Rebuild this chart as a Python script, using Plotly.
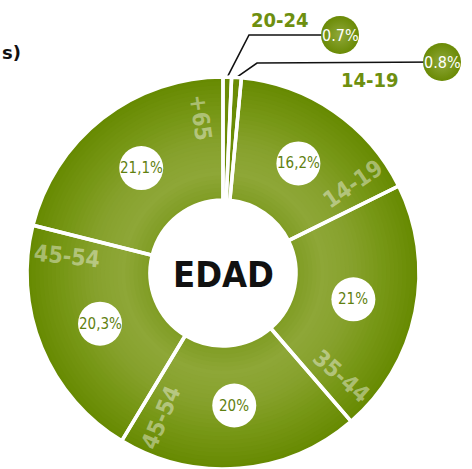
import numpy as np
import plotly.graph_objects as go

# ---------------- data ----------------
categories = ["20-24", "14-19", "14-19", "35-44", "45-54", "45-54", "+65"]
values = [0.7, 0.8, 16.2, 21, 20, 20.3, 21.1]
pct_labels = ["0.7%", "0.8%", "16,2%", "21%", "20%", "20,3%", "21,1%"]
center_title = "EDAD"
cropped_title = "s)"
small_idx = [0, 1]          # slices labelled with outside callouts

# ---------------- layout constants ----------------
W, H = 472, 469
CX, CY = 223, 273          # donut centre (px from left / top)
R, R_IN = 196, 73          # outer / inner radius in px
R_PCT = 133                # radius of white percentage discs
R_CAT = 157                # radius of category labels
CAT_OFFSET = 8             # degrees before slice end
SMALL_COL = "#6b8c05"
PCT_COL = "#5f8010"
LBL_COL = "#6e8f0f"
COND = "DejaVu Sans Condensed, DejaVu Sans, sans-serif"

# callout geometry (elbow point, circle centre, label centre)
callout_elbow = [(249, 35), (257, 63)]
callout_circle = [(340, 35), (442, 62)]
callout_label = [(280, 20), (370, 80)]

# radial colour profile (radius px -> rgb)
prof_r = [73, 100, 130, 160, 197]
prof_c = [(0x80, 0x9c, 0x24), (0x8e, 0xa7, 0x37), (0x86, 0xa1, 0x2c),
          (0x77, 0x97, 0x16), (0x66, 0x89, 0x00)]


def prof_color(r):
    comps = [np.interp(r, prof_r, [c[i] for c in prof_c]) for i in range(3)]
    return "rgb(%d,%d,%d)" % tuple(int(round(v)) for v in comps)


def dom(rk):
    return dict(x=[(CX - rk) / W, (CX + rk) / W],
                y=[max(0.0, (H - CY - rk) / H), (H - CY + rk) / H])


total = sum(values)
cum = np.cumsum([0] + values)
start_deg = cum[:-1] / total * 360
end_deg = cum[1:] / total * 360
mid_deg = (start_deg + end_deg) / 2


def polar(theta_deg, r):
    t = np.radians(theta_deg)
    return CX + r * np.sin(t), CY - r * np.cos(t)


fig = go.Figure()
ids = [str(i) for i in range(len(values))]

# concentric rings to mimic the radial gradient
n_rings = 30
radii = np.linspace(R, R_IN, n_rings + 1)[:-1]
step = (R - R_IN) / n_rings
for rk in radii:
    col = prof_color(rk - step / 2)
    cols = [SMALL_COL if i in small_idx else col for i in range(len(values))]
    fig.add_trace(go.Pie(
        labels=ids, values=values, sort=False, direction="clockwise",
        rotation=0, hole=R_IN / rk, domain=dom(rk),
        marker=dict(colors=cols, line=dict(width=0)),
        textinfo="none", hoverinfo="skip", showlegend=False))

# white separators
fig.add_trace(go.Pie(
    labels=ids, values=values, sort=False, direction="clockwise",
    rotation=0, hole=R_IN / R, domain=dom(R),
    marker=dict(colors=["rgba(0,0,0,0)"] * len(values),
                line=dict(color="white", width=3.5)),
    textinfo="none", hoverinfo="skip", showlegend=False))

shapes = []
annotations = []

annotations.append(dict(x=CX, y=CY + 1, xref="x", yref="y", text="<b>%s</b>" % center_title,
                        showarrow=False, font=dict(family=COND, size=36, color="#111111"),
                        xanchor="center", yanchor="middle"))

# percentage discs and category labels for the big slices
for i, (cat, pct) in enumerate(zip(categories, pct_labels)):
    if i in small_idx:
        continue
    px, py = polar(mid_deg[i], R_PCT)
    shapes.append(dict(type="circle", xref="x", yref="y", layer="above",
                       x0=px - 22, x1=px + 22, y0=py - 22, y1=py + 22,
                       fillcolor="white", line=dict(width=0)))
    annotations.append(dict(x=px, y=py, xref="x", yref="y", text=pct, showarrow=False,
                            font=dict(family=COND, size=15, color=PCT_COL)))
    th = end_deg[i] - CAT_OFFSET
    lx, ly = polar(th, R_CAT)
    ang = th - 90 if th < 180 else th - 270
    annotations.append(dict(x=lx, y=ly, xref="x", yref="y", text="<b>%s</b>" % cat,
                            showarrow=False, textangle=ang,
                            font=dict(family=COND, size=23, color="rgba(255,255,255,0.42)")))

# callouts for the tiny slices
for k, i in enumerate(small_idx):
    sx, sy = polar(mid_deg[i], R)
    ex, ey = callout_elbow[k]
    ccx, ccy = callout_circle[k]
    fig.add_trace(go.Scatter(x=[sx, ex, ccx], y=[sy, ey, ccy], mode="lines",
                             line=dict(color="#111111", width=1.6),
                             hoverinfo="skip", showlegend=False))
    fig.add_trace(go.Scatter(x=[ccx], y=[ccy], mode="markers",
                             marker=dict(size=38, color="#6a8a05",
                                         gradient=dict(type="radial", color="#8fa83a"),
                                         line=dict(width=0)),
                             hoverinfo="skip", showlegend=False))
    annotations.append(dict(x=ccx, y=ccy, xref="x", yref="y", text=pct_labels[i],
                            showarrow=False, font=dict(family=COND, size=16, color="white")))
    lx, ly = callout_label[k]
    annotations.append(dict(x=lx, y=ly, xref="x", yref="y", text="<b>%s</b>" % categories[i],
                            showarrow=False, font=dict(family=COND, size=20, color=LBL_COL)))

annotations.append(dict(x=0, y=52, xref="x", yref="y", text="<b>%s</b>" % cropped_title,
                        showarrow=False, xanchor="left",
                        font=dict(family="DejaVu Sans, sans-serif", size=18, color="#111111")))

fig.update_layout(
    width=W, height=H, margin=dict(l=0, r=0, t=0, b=0),
    paper_bgcolor="white", plot_bgcolor="rgba(0,0,0,0)",
    xaxis=dict(range=[0, W], visible=False, fixedrange=True),
    yaxis=dict(range=[H, 0], visible=False, fixedrange=True),
    shapes=shapes, annotations=annotations, showlegend=False)

fig.write_html("out.html", config={"displayModeBar": False},
               post_script="document.body.style.margin='0';document.body.style.overflow='hidden';")
